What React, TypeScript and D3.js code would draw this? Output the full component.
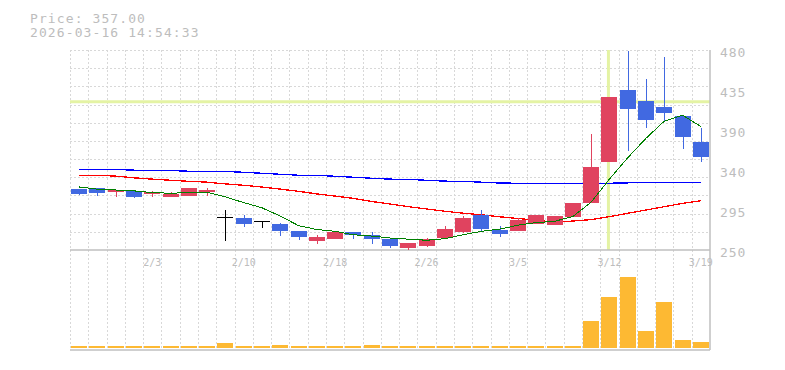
import React from "react";
import * as d3 from "d3";

const dates = ["1/28","1/29","1/30","2/2","2/3","2/4","2/5","2/6","2/9","2/10","2/12","2/13","2/16","2/17","2/18","2/19","2/20","2/24","2/25","2/26","2/27","3/2","3/3","3/4","3/5","3/6","3/9","3/10","3/11","3/12","3/13","3/16","3/17","3/18","3/19"];
const tickLabels = ["2/3","2/10","2/18","2/26","3/5","3/12","3/19"];

const opens  = [320,321,316.5,318,314.5,311,312,317,287.5,287,283,280,272,260.5,263,270.5,267,262.5,252.5,254.5,264,271,290,273,272,280,279,288,304,351,434,421,414.5,404,374];
const highs  = [320.5,321,319.5,319,318,316.5,321.5,321.5,296,290,283,280.5,272,267,271,271,270.5,262.5,258.5,264,277.5,289,296,277.5,287,290.5,289.5,304.5,383.5,426,479,446.5,472,404.5,390];
const lows   = [313.5,312,311,310,311,311,312,312,260.5,276.5,275.5,266,261.5,257,262.5,262.5,257,252,250,254,263,270,270.5,265,271.5,279.5,278.5,287.5,304,351,364,390,397,366,351];
const closes = [314.5,315.5,319,311,316.5,314.5,321.5,319,287.5,280,283,272,265,265,270.5,267,262.5,254.5,258,262.5,274,287,274,268.5,284.5,290,289,304,345.5,426,412,399.5,407.5,380,357];

const ma5  = [322.5,320,319,318,316,315.3,316,316.5,311,304.5,298.5,289,278,273.5,271.5,267.5,266,263.8,262.5,261.2,263,267.5,271.5,274,278.5,281.5,283,288.5,305,331.5,356,378.5,398.2,405,392];
const ma25 = [336,335.8,335,333,331.5,330.2,329,328,326,324.4,322.4,320,317.5,314.5,312,309.4,305.8,302.9,299.8,297.2,294.6,292.3,290.5,288.2,286.2,284.3,282,283.3,285,288.3,292.2,296,299.8,303.6,306.7];
const ma75 = [342.8,342.8,342.6,341.8,341.6,341.4,340.6,340.5,340.3,339.4,338.2,337.1,336,335.8,334.8,333.7,332.5,331.5,331.2,330.2,329.2,328.9,328,327,326.8,326.7,326.6,326.7,326.7,326.8,327.2,327.8,327.9,327.9,327.9];

const volumes = [20,20,20,20,20,20,20,20,50,20,20,30,20,20,20,20,30,20,20,20,20,20,20,20,20,20,20,20,270,510,710,170,460,80,60];

const priceTicks = [480,435,390,340,295,250];
const markLevel = 420.5;
const markDate = "3/12";
const headerPrice = "Price: 357.00";
const headerTime = "2026-03-16 14:54:33";

const W = 785, H = 370;
const L = 70, R = 710;
const PT = 50, PB = 250, VB = 350;

export default function App() {
  const x = d3.scaleBand<string>().domain(dates).range([L, R]).paddingInner(0).paddingOuter(0);
  const sw = x.bandwidth();
  const cx = (i: number) => (x(dates[i]) as number) + sw / 2;
  const y = d3.scaleLinear().domain([250, 480]).range([PB, PT]);
  const yv = d3.scaleLinear().domain([0, 1000]).range([348, 248]);
  const bodyW = 16;

  const mk = (arr: number[]) =>
    d3.line<number>().x((_, i) => cx(i)).y((d) => y(d))(arr) || "";

  const hGrid = d3.range(0, 11).map((j) => PT + (j * (PB - PT)) / 11);
  const vGrid = d3.range(0, dates.length).map((k) => L + k * sw);
  const font = "'DejaVu Sans Mono', monospace";
  const txt = "#bdbdbd";
  const red = "#e0435f";
  const blue = "#4169e1";

  return (
    <svg width={W} height={H} style={{ position: "absolute", left: 0, top: 0, background: "#fff" }}>
      <rect x={0} y={0} width={W} height={H} fill="#fff" />
      {/* grid */}
      <g stroke="#d8d8d8" strokeWidth={1} strokeDasharray="2,2" shapeRendering="crispEdges">
        {hGrid.map((gy, j) => (
          <line key={"h" + j} x1={L} x2={R} y1={Math.round(gy) + 0.5} y2={Math.round(gy) + 0.5} />
        ))}
        {vGrid.map((gx, k) => (
          <line key={"v" + k} x1={Math.round(gx) + 0.5} x2={Math.round(gx) + 0.5} y1={PT} y2={VB} />
        ))}
      </g>
      {/* highlight lines */}
      <line x1={L} x2={R} y1={y(markLevel)} y2={y(markLevel)} stroke="#e4f3a4" strokeWidth={3} />
      <line x1={cx(dates.indexOf(markDate)) - 1} x2={cx(dates.indexOf(markDate)) - 1} y1={PT} y2={PB} stroke="#e4f3a4" strokeWidth={3} />
      {/* borders */}
      <g stroke="#bfbfbf" strokeWidth={1.5}>
        <line x1={L} x2={R} y1={PB} y2={PB} />
        <line x1={L} x2={R} y1={VB} y2={VB} />
        <line x1={R} x2={R} y1={PT} y2={VB} />
      </g>
      {/* volume */}
      <g fill="#fdb933" shapeRendering="crispEdges">
        {volumes.map((v, i) => (
          <rect key={i} x={Math.round(cx(i) - bodyW / 2)} y={yv(v)} width={bodyW} height={yv(0) - yv(v)} />
        ))}
      </g>
      {/* moving averages */}
      <path d={mk(ma75)} fill="none" stroke="#0000ff" strokeWidth={1.3} shapeRendering="crispEdges" />
      <path d={mk(ma25)} fill="none" stroke="#ff0000" strokeWidth={1.3} shapeRendering="crispEdges" />
      {/* candles */}
      <g shapeRendering="crispEdges">
        {dates.map((d, i) => {
          const o = opens[i], c = closes[i], h = highs[i], l = lows[i];
          const col = c > o ? red : c < o ? blue : "#000";
          const bx = Math.round(cx(i) - bodyW / 2);
          const wx = Math.round(cx(i)) + 0.5;
          const top = y(Math.max(o, c));
          const bot = y(Math.min(o, c));
          return (
            <g key={d}>
              <line x1={wx} x2={wx} y1={y(h)} y2={y(l)} stroke={col} strokeWidth={1} />
              {c === o ? (
                <line x1={bx} x2={bx + bodyW} y1={top} y2={top} stroke={col} strokeWidth={1.2} />
              ) : (
                <rect x={bx} y={top} width={bodyW} height={Math.max(1, bot - top)} fill={col} />
              )}
            </g>
          );
        })}
      </g>
      <path d={mk(ma5)} fill="none" stroke="#008000" strokeWidth={1} shapeRendering="crispEdges" />
      {/* y labels */}
      <g fill={txt} fontFamily={font} fontSize={13} letterSpacing={0.9}>
        {priceTicks.map((t, k) => (
          <text key={t} x={720} y={PT + (k * (PB - PT)) / (priceTicks.length - 1) + 7.3}>{t}</text>
        ))}
      </g>
      {/* x labels */}
      <g fill={txt} fontFamily={font} fontSize={10} textAnchor="middle">
        {tickLabels.map((t) => (
          <text key={t} x={cx(dates.indexOf(t))} y={266}>{t}</text>
        ))}
      </g>
      {/* header */}
      <g fill={txt} fontFamily={font} fontSize={13} letterSpacing={1.1}>
        <text x={30} y={22.7}>{headerPrice}</text>
        <text x={30} y={37.3}>{headerTime}</text>
      </g>
    </svg>
  );
}
